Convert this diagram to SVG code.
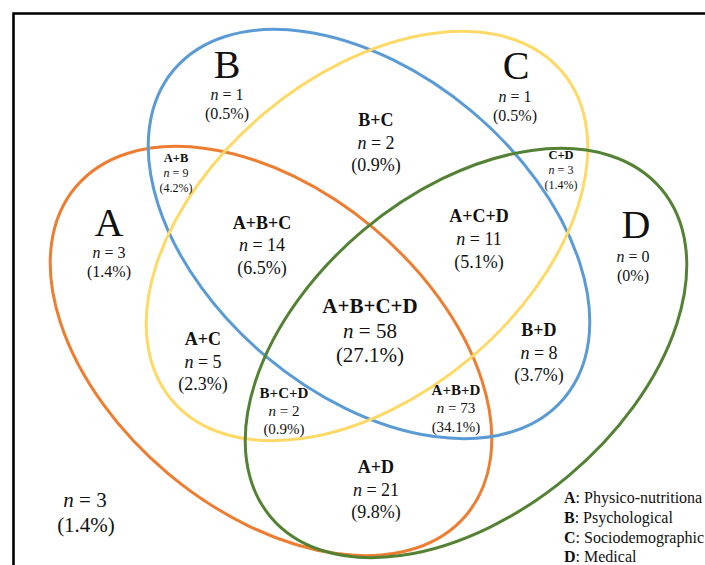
<svg xmlns="http://www.w3.org/2000/svg" width="705" height="565" viewBox="0 0 705 565">
<style>
text{font-family:"Liberation Serif","Times New Roman",serif;fill:#111;text-anchor:middle}
.big{font-size:40px}
.b18{font-size:18px;font-weight:bold}
.r18{font-size:18px}
.r16{font-size:16px}
.b15{font-size:15px;font-weight:bold}
.r15{font-size:15px}
.b12{font-size:12.5px;font-weight:bold}
.r12{font-size:12px}
.b21{font-size:21px;font-weight:bold}
.r21{font-size:21px}
.leg{font-size:16px;text-anchor:start}
.i{font-style:italic}
.e{fill:none;stroke-width:3}
</style>
<rect x="0" y="0" width="705" height="565" fill="#fff"/>
<path d="M13.5 600 V13.5 H720" fill="none" stroke="#000" stroke-width="2.6"/>
<g id="connectors"></g>
<g id="ellipse-A"><ellipse class="e" cx="271" cy="351" rx="255" ry="160" transform="rotate(40 271 351)" stroke="#ED7D31"/></g>
<g id="ellipse-B"><ellipse class="e" cx="369" cy="234" rx="255" ry="160" transform="rotate(40 369 234)" stroke="#5B9BD5"/></g>
<g id="ellipse-C"><ellipse class="e" cx="367" cy="236" rx="255" ry="160" transform="rotate(-40 367 236)" stroke="#FFD966"/></g>
<g id="ellipse-D"><ellipse class="e" cx="466" cy="353" rx="255" ry="160" transform="rotate(-40 466 353)" stroke="#548235"/></g>

<g id="label-B"><text class="big" x="227" y="78">B</text><text class="r16" x="227" y="100"><tspan class="i">n</tspan> = 1</text><text class="r16" x="227" y="119">(0.5%)</text></g>
<g id="label-C"><text class="big" x="516" y="79">C</text><text class="r16" x="515" y="102"><tspan class="i">n</tspan> = 1</text><text class="r16" x="515" y="121">(0.5%)</text></g>
<g id="label-A"><text class="big" x="109" y="236">A</text><text class="r16" x="109" y="258"><tspan class="i">n</tspan> = 3</text><text class="r16" x="109" y="277">(1.4%)</text></g>
<g id="label-D"><text class="big" x="636" y="238">D</text><text class="r16" x="633" y="262"><tspan class="i">n</tspan> = 0</text><text class="r16" x="633" y="281">(0%)</text></g>

<g id="label-AB"><text class="b12" x="176" y="162">A+B</text><text class="r12" x="176" y="177"><tspan class="i">n</tspan> = 9</text><text class="r12" x="176" y="192">(4.2%)</text></g>
<g id="label-CD"><text class="b12" x="561" y="159">C+D</text><text class="r12" x="561" y="174"><tspan class="i">n</tspan> = 3</text><text class="r12" x="561" y="189">(1.4%)</text></g>
<g id="label-BC"><text class="b18" x="376" y="126">B+C</text><text class="r18" x="376" y="149"><tspan class="i">n</tspan> = 2</text><text class="r18" x="376" y="171">(0.9%)</text></g>
<g id="label-ABC"><text class="b18" x="262" y="229">A+B+C</text><text class="r18" x="262" y="251"><tspan class="i">n</tspan> = 14</text><text class="r18" x="262" y="274">(6.5%)</text></g>
<g id="label-ACD"><text class="b18" x="479" y="222">A+C+D</text><text class="r18" x="479" y="245"><tspan class="i">n</tspan> = 11</text><text class="r18" x="479" y="268">(5.1%)</text></g>
<g id="label-ABCD"><text class="b21" x="370" y="313">A+B+C+D</text><text class="r21" x="370" y="338"><tspan class="i">n</tspan> = 58</text><text class="r21" x="370" y="362">(27.1%)</text></g>
<g id="label-AC"><text class="b18" x="203" y="345">A+C</text><text class="r18" x="203" y="368"><tspan class="i">n</tspan> = 5</text><text class="r18" x="203" y="390">(2.3%)</text></g>
<g id="label-BD"><text class="b18" x="539" y="336">B+D</text><text class="r18" x="539" y="359"><tspan class="i">n</tspan> = 8</text><text class="r18" x="539" y="381">(3.7%)</text></g>
<g id="label-BCD"><text class="b15" x="284" y="398">B+C+D</text><text class="r15" x="284" y="416"><tspan class="i">n</tspan> = 2</text><text class="r15" x="284" y="434">(0.9%)</text></g>
<g id="label-ABD"><text class="b15" x="456" y="395">A+B+D</text><text class="r15" x="456" y="413"><tspan class="i">n</tspan> = 73</text><text class="r15" x="456" y="432">(34.1%)</text></g>
<g id="label-AD"><text class="b18" x="376" y="473">A+D</text><text class="r18" x="376" y="496"><tspan class="i">n</tspan> = 21</text><text class="r18" x="376" y="518">(9.8%)</text></g>
<g id="label-none"><text class="r21" x="85" y="507"><tspan class="i">n</tspan> = 3</text><text class="r21" x="86" y="532">(1.4%)</text></g>

<g id="legend">
<text class="leg" x="564" y="503"><tspan font-weight="bold">A</tspan>: Physico-nutritiona</text>
<text class="leg" x="564" y="523"><tspan font-weight="bold">B</tspan>: Psychological</text>
<text class="leg" x="564" y="543"><tspan font-weight="bold">C</tspan>: Sociodemographic</text>
<text class="leg" x="564" y="562"><tspan font-weight="bold">D</tspan>: Medical</text>
</g>
</svg>
